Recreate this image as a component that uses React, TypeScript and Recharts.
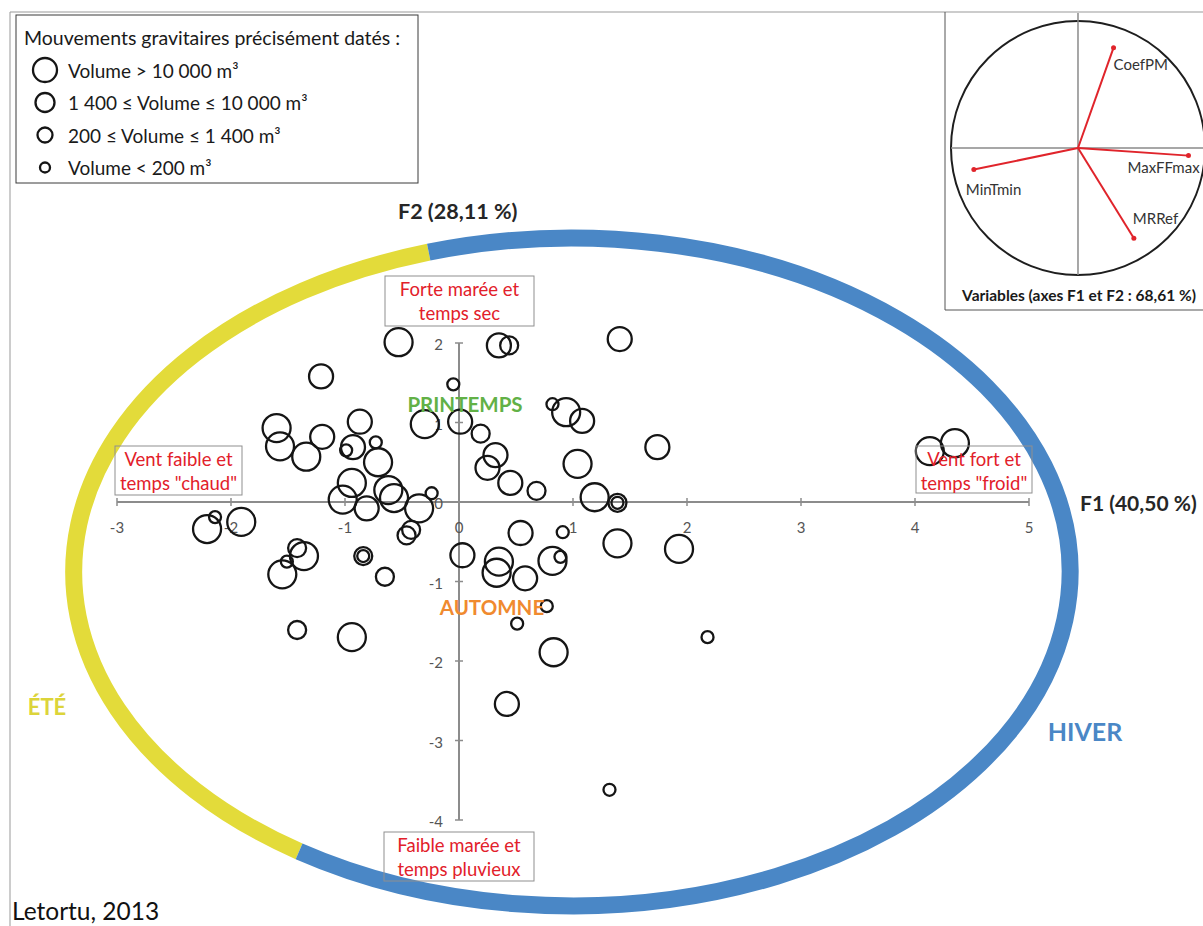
import React from "react";
import { ScatterChart, Scatter, XAxis, YAxis, ReferenceArea, ReferenceLine, ReferenceDot } from "recharts";

// Scores of the dated gravitational movements on the factorial plane (F1, F2)
const f1Scores = [
  -0.53, -1.21, -0.05, -0.30, 0.01, -1.60, -1.57, -1.20, -1.34, -0.87,
  -0.93, -0.99, -0.73, -0.71, -0.94, -1.02, -0.81, -0.62, -0.57, -0.35,
  -0.24, -0.42, -0.46, -2.21, -2.14, -1.91, -1.42, -1.36, -1.51, -1.55,
  -1.42, -0.84, -0.84, -0.65, -0.94, 0.35, 0.44, 1.41, 0.82, 0.94,
  1.08, 0.19, 1.74, 0.32, 0.25, 0.45, 0.68, 1.04, 1.19, 1.39,
  1.39, 0.54, 0.91, 1.39, 1.93, 0.03, 0.35, 0.33, 0.82, 0.89,
  0.58, 0.77, 0.51, 2.18, 0.83, 0.42, 1.32, 4.13, 4.35,
];
const f2Scores = [
  2.01, 1.58, 1.48, 0.98, 1.01, 0.93, 0.70, 0.82, 0.57, 1.01,
  0.69, 0.65, 0.75, 0.50, 0.24, 0.03, -0.08, 0.15, 0.05, -0.08,
  0.11, -0.35, -0.42, -0.34, -0.19, -0.25, -0.58, -0.68, -0.75, -0.91,
  -1.61, -0.68, -0.68, -0.94, -1.70, 1.97, 1.97, 2.05, 1.23, 1.13,
  1.02, 0.86, 0.69, 0.59, 0.43, 0.24, 0.14, 0.48, 0.06, -0.01,
  -0.01, -0.39, -0.38, -0.52, -0.59, -0.67, -0.75, -0.89, -0.74, -0.69,
  -0.96, -1.31, -1.53, -1.70, -1.89, -2.54, -3.62, 0.64, 0.74,
];
// 4: > 10 000 m3, 3: 1 400 - 10 000 m3, 2: 200 - 1 400 m3, 1: < 200 m3
const volumeClass = [
  4, 3, 1, 4, 3, 4, 4, 3, 4, 3,
  3, 1, 1, 4, 4, 4, 3, 4, 4, 4,
  1, 2, 2, 4, 1, 4, 2, 4, 1, 4,
  2, 2, 1, 2, 4, 3, 2, 3, 1, 4,
  3, 2, 3, 3, 3, 3, 2, 4, 4, 2,
  1, 3, 1, 4, 4, 3, 4, 4, 4, 1,
  3, 1, 1, 1, 4, 3, 1, 4, 4,
];

const xTicks = [-3, -2, -1, 0, 1, 2, 3, 4, 5];
const yTicks = [2, 1, 0, -1, -2, -3, -4];

// Correlation circle (variables)
const variableNames = ["CoefPM", "MaxFFmax", "MinTmin", "MRRef"];
const loadingF1 = [0.28, 0.87, -0.82, 0.44];
const loadingF2 = [0.79, -0.06, -0.17, -0.71];

const legendLabels = [
  "Volume > 10 000 m³",
  "1 400 ≤ Volume ≤ 10 000 m³",
  "200 ≤ Volume ≤ 1 400 m³",
  "Volume < 200 m³",
];
const legendClasses = [4, 3, 2, 1];

// Season ring (in F1/F2 units) and angles where summer meets winter
const ringCenter = [0.99, -0.88];
const ringRadii = [4.37, 4.2];
const summerArc = [106.7, 236.8];

const FONT = "Lato, 'Open Sans', sans-serif";
const BUBBLE_R: Record<number, number> = { 4: 14, 3: 12, 2: 9, 1: 6 };
const LEGEND_R: Record<number, number> = { 4: 12, 3: 9.5, 2: 7.5, 1: 5 };
const AXIS_GREY = "#8c8c8c";
const RED = "#e2202a";

const points = f1Scores.map((x, i) => ({ x, y: f2Scores[i], v: volumeClass[i] }));
const loadings = variableNames.map((name, i) => ({ name, x: loadingF1[i], y: loadingF2[i] }));
const labelOffsets: Record<string, number[]> = {
  CoefPM: [0, 16],
  MaxFFmax: [-61, 11],
  MinTmin: [-8, 19],
  MRRef: [-1, -20],
};

function Bubble(p: any) {
  return (
    <circle cx={p.cx} cy={p.cy} r={BUBBLE_R[p.payload.v]} fill="none" stroke="#151515" strokeWidth={2.3} />
  );
}

function rectGeom(p: any) {
  const w = Math.abs(p.width);
  const h = Math.abs(p.height);
  const x0 = Math.min(p.x, p.x + p.width);
  const y0 = Math.min(p.y, p.y + p.height);
  return { cx: x0 + w / 2, cy: y0 + h / 2, rx: w / 2, ry: h / 2 };
}

function SeasonRing(p: any) {
  const { cx, cy, rx, ry } = rectGeom(p);
  const pt = (deg: number) => {
    const a = (deg * Math.PI) / 180;
    return [cx + rx * Math.cos(a), cy - ry * Math.sin(a)];
  };
  const [ax, ay] = pt(summerArc[0]);
  const [bx, by] = pt(summerArc[1]);
  return (
    <g>
      <path d={`M${ax},${ay} A${rx},${ry} 0 0 0 ${bx},${by}`} fill="none" stroke="#e3db3a" strokeWidth={17} />
      <path d={`M${bx},${by} A${rx},${ry} 0 1 0 ${ax},${ay}`} fill="none" stroke="#4a87c6" strokeWidth={17} />
    </g>
  );
}

function UnitCircle(p: any) {
  const { cx, cy, rx, ry } = rectGeom(p);
  return <ellipse cx={cx} cy={cy} rx={rx} ry={ry} fill="none" stroke="#1e1e1e" strokeWidth={2} />;
}

const xTickShape = (t: number) => (p: any) => (
  <g>
    <line x1={p.cx} x2={p.cx} y1={p.cy - 4} y2={p.cy + 4} stroke={AXIS_GREY} strokeWidth={1.5} />
    <text x={p.cx} y={p.cy + 25} textAnchor="middle" dominantBaseline="central" fontSize={15} fill="#555" fontFamily={FONT}>
      {t}
    </text>
  </g>
);

const yTickShape = (t: number) => (p: any) => (
  <g>
    <line x1={p.cx - 4} x2={p.cx + 4} y1={p.cy} y2={p.cy} stroke={AXIS_GREY} strokeWidth={1.5} />
    <text x={p.cx - 16} y={p.cy + 1} textAnchor="end" dominantBaseline="central" fontSize={15} fill="#555" fontFamily={FONT}>
      {t}
    </text>
  </g>
);

function LoadingEnd(p: any) {
  const name = p.payload.name;
  const [dx, dy] = labelOffsets[name];
  return (
    <g>
      <circle cx={p.cx} cy={p.cy} r={2.5} fill="#e0242b" />
      <text x={p.cx + dx} y={p.cy + dy} fontSize={15} fill="#333" dominantBaseline="central" fontFamily={FONT}>
        {name}
      </text>
    </g>
  );
}

function RedBox({ x, y, w, h, lines }: { x: number; y: number; w: number; h: number; lines: string[] }) {
  return (
    <g>
      <rect x={x} y={y} width={w} height={h} fill="none" stroke="#8f8f8f" strokeWidth={1} />
      {lines.map((l, i) => (
        <text
          key={i}
          x={x + w / 2}
          y={y + 13 + i * 24}
          textAnchor="middle"
          dominantBaseline="central"
          fontSize={18.5}
          fill={RED}
        >
          {l}
        </text>
      ))}
    </g>
  );
}

export default function App() {
  return (
    <div
      style={{
        position: "absolute",
        left: 0,
        top: 0,
        width: 1203,
        height: 926,
        background: "#fff",
        fontFamily: FONT,
        overflow: "hidden",
      }}
    >
      <div style={{ position: "absolute", left: 0, top: 0 }}>
        <ScatterChart width={1203} height={926} margin={{ top: 0, right: 0, bottom: 0, left: 0 }}>
          <XAxis type="number" dataKey="x" domain={[-4.0263, 6.5263]} hide allowDataOverflow />
          <YAxis type="number" dataKey="y" domain={[-5.3333, 6.3145]} hide allowDataOverflow />
          <ReferenceArea
            x1={ringCenter[0] - ringRadii[0]}
            x2={ringCenter[0] + ringRadii[0]}
            y1={ringCenter[1] - ringRadii[1]}
            y2={ringCenter[1] + ringRadii[1]}
            ifOverflow="visible"
            shape={SeasonRing}
          />
          <ReferenceLine
            segment={[{ x: xTicks[0], y: 0 }, { x: xTicks[xTicks.length - 1], y: 0 }]}
            stroke={AXIS_GREY}
            strokeWidth={2}
          />
          <ReferenceLine
            segment={[{ x: 0, y: yTicks[yTicks.length - 1] }, { x: 0, y: yTicks[0] }]}
            stroke={AXIS_GREY}
            strokeWidth={2}
          />
          {xTicks.map((t) => (
            <ReferenceDot key={`xt${t}`} x={t} y={0} r={0} shape={xTickShape(t)} />
          ))}
          {yTicks.map((t) => (
            <ReferenceDot key={`yt${t}`} x={0} y={t} r={0} shape={yTickShape(t)} />
          ))}
          <Scatter data={points} isAnimationActive={false} shape={Bubble} />
        </ScatterChart>
      </div>

      <svg
        width={1203}
        height={926}
        style={{ position: "absolute", left: 0, top: 0, pointerEvents: "none" }}
        fontFamily={FONT}
      >
        {/* frame */}
        <line x1={10} y1={12} x2={1203} y2={12} stroke="#999" strokeWidth={1} />
        <line x1={10} y1={12} x2={10} y2={926} stroke="#999" strokeWidth={1} />

        {/* legend */}
        <rect x={16} y={15} width={402} height={168} fill="#fff" stroke="#3a3a3a" strokeWidth={1} />
        <text x={24} y={37} fontSize={19.5} fill="#1a1a1a" dominantBaseline="central">
          Mouvements gravitaires précisément datés :
        </text>
        {legendLabels.map((lab, i) => (
          <g key={lab}>
            <circle cx={45} cy={70 + i * 32.5} r={LEGEND_R[legendClasses[i]]} fill="none" stroke="#151515" strokeWidth={2.3} />
            <text x={68} y={70 + i * 32.5} fontSize={19} fill="#1a1a1a" dominantBaseline="central">
              {lab}
            </text>
          </g>
        ))}

        {/* inset frame */}
        <line x1={945} y1={12} x2={945} y2={310} stroke="#555" strokeWidth={1} />
        <line x1={945} y1={310} x2={1203} y2={310} stroke="#555" strokeWidth={1} />
        <text x={1079} y={295} fontSize={15.5} fontWeight={700} fill="#1a1a1a" textAnchor="middle" dominantBaseline="central">
          Variables (axes F1 et F2 : 68,61 %)
        </text>

        {/* axis titles */}
        <text x={398} y={211} fontSize={21.5} fontWeight={700} fill="#262626" dominantBaseline="central">
          F2 (28,11 %)
        </text>
        <text x={1080} y={502} fontSize={21} fontWeight={700} fill="#262626" dominantBaseline="central">
          F1 (40,50 %)
        </text>

        {/* seasons */}
        <text x={465} y={404} fontSize={20.5} fontWeight={700} fill="#62b146" textAnchor="middle" dominantBaseline="central">
          PRINTEMPS
        </text>
        <text x={492} y={607} fontSize={20.5} fontWeight={700} fill="#f08a2f" textAnchor="middle" dominantBaseline="central">
          AUTOMNE
        </text>
        <text x={1085} y={731} fontSize={25} fontWeight={700} fill="#4a87c6" textAnchor="middle" dominantBaseline="central">
          HIVER
        </text>
        <text x={47} y={706} fontSize={22} fontWeight={700} fill="#dcd43a" textAnchor="middle" dominantBaseline="central">
          ÉTÉ
        </text>

        {/* interpretation boxes */}
        <RedBox x={385} y={276} w={149} h={50} lines={["Forte marée et", "temps sec"]} />
        <RedBox x={115} y={446} w={127} h={49} lines={["Vent faible et", 'temps "chaud"']} />
        <RedBox x={916} y={446} w={116} h={47} lines={["Vent fort et", 'temps "froid"']} />
        <RedBox x={384} y={832} w={150} h={49} lines={["Faible marée et", "temps pluvieux"]} />

        <text x={12} y={910} fontSize={24.5} fill="#111" dominantBaseline="central">
          Letortu, 2013
        </text>
      </svg>

      <div style={{ position: "absolute", left: 945, top: 13 }}>
        <ScatterChart width={258} height={295} margin={{ top: 0, right: 0, bottom: 0, left: 0 }}>
          <XAxis type="number" dataKey="x" domain={[-1.0472, 0.9843]} hide allowDataOverflow />
          <YAxis type="number" dataKey="y" domain={[-1.2598, 1.063]} hide allowDataOverflow />
          <ReferenceArea x1={-1} x2={1} y1={-1} y2={1} ifOverflow="visible" shape={UnitCircle} />
          <ReferenceLine segment={[{ x: -1, y: 0 }, { x: 0.9843, y: 0 }]} stroke="#8a8a8a" strokeWidth={1.5} ifOverflow="visible" />
          <ReferenceLine segment={[{ x: 0, y: -1 }, { x: 0, y: 1.063 }]} stroke="#8a8a8a" strokeWidth={1.5} ifOverflow="visible" />
          {loadings.map((l) => (
            <ReferenceLine
              key={l.name}
              segment={[{ x: 0, y: 0 }, { x: l.x, y: l.y }]}
              stroke="#e0242b"
              strokeWidth={2}
            />
          ))}
          <Scatter data={loadings} isAnimationActive={false} shape={LoadingEnd} />
        </ScatterChart>
      </div>
    </div>
  );
}
